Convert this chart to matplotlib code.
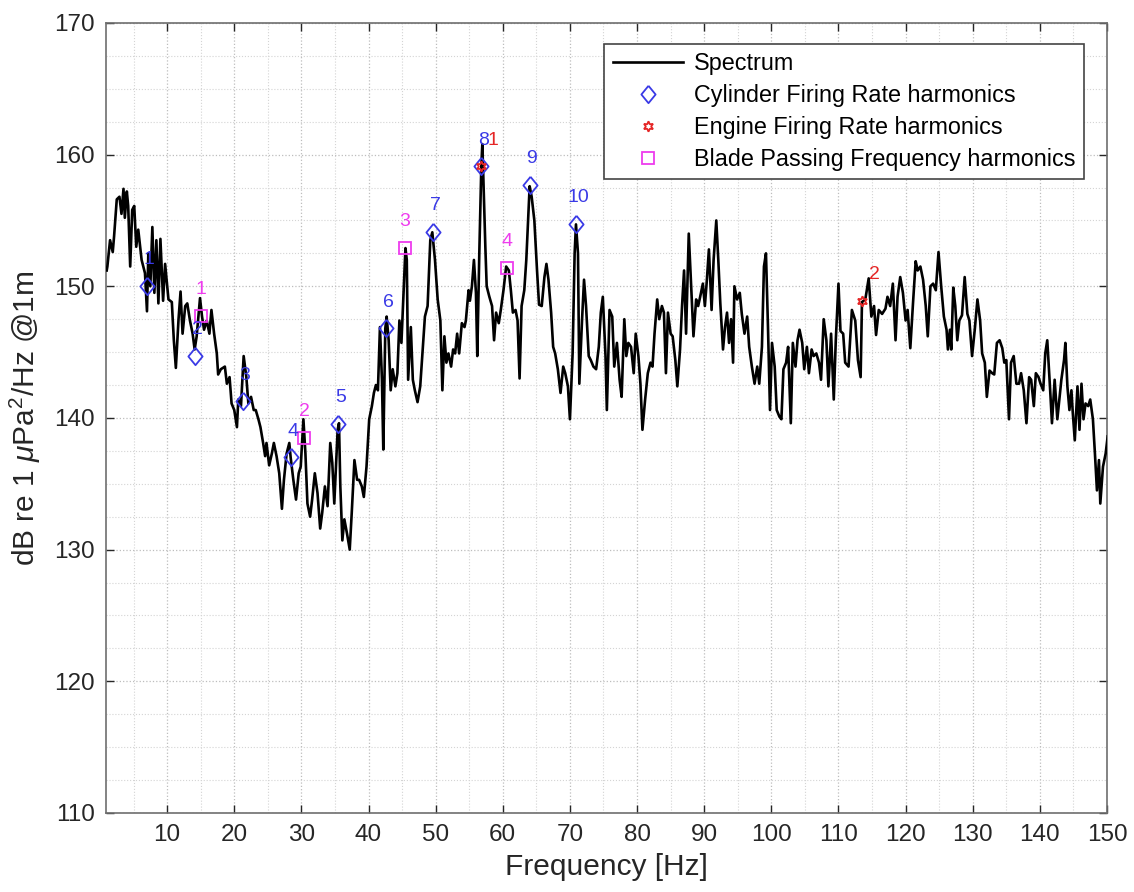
import matplotlib
matplotlib.use("Agg")
import matplotlib.pyplot as plt
from matplotlib.ticker import MultipleLocator

plt.rcParams['font.family'] = ['Liberation Sans', 'DejaVu Sans']
plt.rcParams['mathtext.fontset'] = 'custom'
plt.rcParams['mathtext.rm'] = 'Liberation Sans'
plt.rcParams['mathtext.it'] = 'Liberation Sans:italic'

# spectrum: (frequency Hz, level dB)
spectrum_pts = [
    (1.0, 151.2), (1.1, 151.5), (1.5, 153.5), (1.9, 152.6), (2.1, 153.8), (2.5, 156.6),
    (2.9, 156.8), (3.2, 155.5), (3.5, 157.4), (3.7, 155.2), (4.0, 157.2), (4.2, 156.1),
    (4.5, 151.5), (4.8, 155.8), (5.1, 156.1), (5.4, 153.0), (5.7, 154.3), (6.2, 152.0),
    (6.7, 151.0), (7.0, 148.1), (7.2, 152.5), (7.5, 150.0), (7.8, 154.5), (8.1, 149.5),
    (8.4, 153.5), (8.7, 148.7), (9.0, 153.6), (9.4, 148.9), (9.7, 151.7), (10.2, 149.0),
    (10.7, 148.8), (11.0, 145.9), (11.3, 143.8), (11.7, 147.5), (12.0, 149.6), (12.3, 146.4),
    (12.7, 148.5), (13.0, 148.7), (13.4, 147.4), (13.8, 146.4), (14.1, 145.2), (14.4, 146.2),
    (14.9, 149.1), (15.2, 147.7), (15.5, 146.7), (15.9, 147.4), (16.3, 146.4), (16.6, 148.2),
    (17.0, 146.4), (17.4, 144.9), (17.6, 143.3), (18.0, 143.7), (18.3, 143.8), (18.6, 143.9),
    (18.9, 142.6), (19.3, 143.1), (19.6, 141.1), (20.0, 140.6), (20.4, 139.3), (20.6, 141.4),
    (21.0, 140.9), (21.4, 144.7), (21.8, 143.1), (22.1, 141.1), (22.5, 141.6), (22.9, 140.6),
    (23.2, 140.6), (23.6, 139.9), (23.9, 139.3), (24.3, 138.1), (24.6, 137.1), (24.8, 138.1),
    (25.2, 136.4), (25.6, 137.3), (25.9, 138.1), (26.3, 137.1), (26.7, 135.8), (27.1, 133.1),
    (27.4, 135.3), (27.8, 137.3), (28.2, 138.1), (28.4, 137.0), (28.8, 135.3), (29.2, 133.8),
    (29.6, 135.8), (29.9, 136.3), (30.3, 139.9), (30.6, 137.3), (30.9, 133.5), (31.3, 132.5),
    (31.6, 133.8), (32.0, 135.8), (32.4, 134.3), (32.8, 131.6), (33.1, 132.8), (33.5, 134.8),
    (33.9, 133.3), (34.3, 138.1), (34.6, 136.6), (34.9, 133.5), (35.4, 139.1), (35.6, 139.6),
    (35.8, 134.8), (36.1, 130.7), (36.4, 132.3), (36.8, 131.2), (37.2, 130.0), (37.5, 132.8),
    (37.9, 136.8), (38.3, 135.3), (38.6, 135.3), (39.0, 134.8), (39.3, 134.0), (39.7, 136.3),
    (40.1, 139.9), (40.5, 140.9), (40.8, 141.9), (41.1, 142.5), (41.4, 142.1), (41.7, 146.9),
    (42.0, 142.9), (42.2, 137.6), (42.5, 146.8), (42.7, 147.7), (43.0, 145.9), (43.3, 142.1),
    (43.6, 143.7), (44.0, 142.4), (44.3, 143.4), (44.6, 147.4), (44.9, 145.7), (45.5, 152.9),
    (45.7, 152.0), (45.9, 142.9), (46.3, 146.9), (46.6, 142.9), (46.9, 142.1), (47.3, 141.2),
    (47.7, 142.4), (48.1, 145.4), (48.4, 147.7), (48.8, 148.5), (49.2, 153.5), (49.5, 154.1),
    (49.9, 152.0), (50.3, 149.0), (50.7, 147.4), (51.0, 142.1), (51.3, 146.2), (51.6, 144.2),
    (51.9, 144.9), (52.3, 143.9), (52.6, 145.2), (52.9, 144.9), (53.2, 146.4), (53.5, 144.9),
    (53.9, 147.2), (54.3, 146.9), (54.5, 147.4), (54.9, 149.7), (55.1, 148.9), (55.4, 150.0),
    (55.7, 152.0), (56.0, 149.5), (56.2, 144.7), (56.5, 152.5), (56.8, 159.1), (56.95, 160.8),
    (57.1, 158.3), (57.4, 153.0), (57.6, 150.0), (58.0, 149.2), (58.4, 148.5), (58.7, 145.9),
    (59.0, 148.0), (59.4, 147.2), (59.7, 148.2), (60.1, 149.7), (60.5, 151.5), (60.9, 151.2),
    (61.2, 149.7), (61.5, 148.0), (61.9, 148.2), (62.2, 147.4), (62.5, 143.0), (62.8, 148.5),
    (63.2, 149.7), (63.5, 152.0), (64.0, 157.6), (64.3, 156.8), (64.7, 155.0), (65.1, 151.2),
    (65.4, 148.6), (65.8, 148.5), (66.2, 150.7), (66.5, 151.7), (66.8, 150.5), (67.2, 148.0),
    (67.5, 145.4), (67.8, 144.9), (68.2, 143.7), (68.6, 141.9), (69.0, 143.9), (69.3, 143.4),
    (69.7, 142.4), (70.0, 139.9), (70.4, 144.9), (70.7, 152.5), (70.9, 154.7), (71.2, 152.5),
    (71.4, 142.6), (71.8, 147.4), (72.1, 150.5), (72.4, 148.5), (72.8, 144.7), (73.1, 144.4),
    (73.5, 143.9), (73.9, 143.7), (74.3, 145.4), (74.6, 148.0), (74.9, 149.2), (75.3, 144.7),
    (75.5, 140.6), (75.9, 148.2), (76.3, 147.7), (76.6, 143.9), (77.0, 145.7), (77.4, 142.9),
    (77.7, 141.6), (78.1, 147.5), (78.4, 144.7), (78.7, 145.7), (79.1, 145.4), (79.5, 143.4),
    (79.8, 146.4), (80.2, 144.7), (80.5, 142.6), (80.8, 139.1), (81.2, 141.4), (81.6, 143.4),
    (82.0, 144.2), (82.3, 143.9), (82.6, 146.4), (83.0, 149.0), (83.3, 147.5), (83.7, 148.5),
    (84.0, 148.0), (84.3, 143.4), (84.6, 148.0), (85.0, 146.4), (85.3, 146.2), (85.7, 144.4),
    (86.0, 142.4), (86.4, 145.2), (86.7, 148.5), (87.0, 151.2), (87.3, 146.4), (87.7, 154.0),
    (88.0, 150.7), (88.4, 146.2), (88.8, 149.0), (89.1, 148.5), (89.4, 149.2), (89.8, 150.2),
    (90.1, 148.5), (90.4, 150.5), (90.7, 152.8), (91.1, 148.2), (91.4, 152.0), (91.8, 155.0),
    (92.1, 152.0), (92.4, 148.7), (92.8, 145.2), (93.1, 146.9), (93.4, 148.0), (93.7, 145.7),
    (94.0, 147.5), (94.3, 144.2), (94.5, 150.0), (94.9, 149.0), (95.3, 149.5), (95.6, 147.9),
    (96.0, 146.4), (96.4, 147.7), (96.7, 145.4), (97.1, 143.9), (97.5, 142.6), (97.9, 143.9),
    (98.2, 142.6), (98.6, 145.4), (98.9, 151.5), (99.2, 152.5), (99.5, 146.9), (99.8, 140.6),
    (100.1, 145.7), (100.5, 143.9), (100.8, 140.6), (101.2, 140.1), (101.5, 139.9), (101.8, 143.7),
    (102.2, 144.2), (102.5, 145.4), (102.9, 139.6), (103.2, 145.7), (103.6, 143.9), (103.9, 145.9),
    (104.2, 146.7), (104.6, 145.7), (104.9, 143.7), (105.3, 145.4), (105.6, 143.4), (106.0, 145.2),
    (106.3, 144.7), (106.7, 144.9), (107.1, 144.2), (107.4, 142.9), (107.8, 147.5), (108.2, 145.9),
    (108.5, 142.4), (108.9, 146.4), (109.3, 141.4), (109.6, 145.9), (110.0, 150.2), (110.3, 146.6),
    (110.7, 146.4), (111.0, 144.2), (111.5, 143.9), (112.0, 148.2), (112.5, 147.4), (112.9, 144.4),
    (113.3, 143.1), (113.5, 148.8), (114.0, 149.0), (114.5, 150.6), (114.9, 147.7), (115.3, 148.5),
    (115.6, 146.3), (116.0, 148.2), (116.5, 147.9), (117.0, 148.3), (117.3, 149.2), (117.7, 148.5),
    (118.1, 150.2), (118.5, 145.9), (118.8, 149.2), (119.2, 150.7), (119.6, 149.5), (120.0, 147.4),
    (120.3, 148.2), (120.7, 145.3), (121.1, 148.7), (121.5, 151.9), (121.8, 151.2), (122.2, 151.5),
    (122.6, 150.5), (123.0, 148.5), (123.3, 146.2), (123.7, 150.0), (124.1, 150.2), (124.5, 149.7),
    (124.9, 152.6), (125.3, 150.0), (125.7, 147.7), (126.1, 146.7), (126.3, 145.2), (126.6, 146.7),
    (126.8, 145.2), (127.1, 149.9), (127.4, 148.5), (127.7, 145.9), (128.0, 147.4), (128.4, 147.8),
    (128.8, 150.7), (129.2, 147.9), (129.5, 147.4), (129.9, 144.7), (130.3, 146.7), (130.7, 149.0),
    (131.1, 147.4), (131.4, 144.9), (131.8, 144.2), (132.1, 141.6), (132.5, 143.6), (132.9, 143.4),
    (133.2, 143.3), (133.6, 145.7), (134.0, 145.9), (134.4, 145.3), (134.7, 144.2), (135.0, 144.4),
    (135.4, 139.9), (135.7, 144.2), (136.1, 144.7), (136.5, 142.6), (136.9, 142.6), (137.2, 143.4),
    (137.6, 142.1), (138.0, 139.6), (138.4, 143.1), (138.7, 142.9), (139.1, 140.9), (139.4, 143.4),
    (139.8, 143.1), (140.1, 142.6), (140.5, 142.1), (140.8, 144.9), (141.1, 145.9), (141.5, 142.4),
    (141.8, 139.6), (142.2, 142.9), (142.6, 139.9), (142.9, 141.4), (143.2, 142.9), (143.6, 144.4),
    (143.8, 145.7), (144.1, 142.4), (144.4, 140.6), (144.7, 142.1), (144.9, 140.4), (145.2, 138.3),
    (145.6, 142.4), (145.9, 139.1), (146.2, 142.6), (146.5, 139.9), (146.8, 141.1), (147.2, 140.9),
    (147.5, 141.4), (147.9, 139.9), (148.2, 137.3), (148.5, 134.5), (148.8, 136.8), (149.0, 133.5),
    (149.4, 136.3), (149.8, 137.3), (150.1, 138.6),
]
freq = [p[0] for p in spectrum_pts]
level = [p[1] for p in spectrum_pts]

# harmonic markers
cyl_freq = [7.0, 14.2, 21.3, 28.4, 35.5, 42.6, 49.6, 56.8, 64.0, 70.9]
cyl_level = [150.05, 144.7, 141.25, 137.0, 139.55, 146.8, 154.1, 159.1, 157.7, 154.75]
eng_freq = [56.8, 113.5]
eng_level = [159.1, 148.9]
bpf_freq = [15.1, 30.4, 45.45, 60.6]
bpf_level = [147.75, 138.5, 152.9, 151.4]

blue = '#3a3ae6'
red = '#e52626'
mag = '#ee3cee'

fig = plt.figure(figsize=(11.34, 8.92), dpi=100)
ax = fig.add_axes([0.0935, 0.0886, 0.8827, 0.8857])

ax.plot(freq, level, color='black', lw=1.9, label='Spectrum', zorder=3)

diamond = [(0, 1), (0.82, 0), (0, -1), (-0.82, 0), (0, 1)]
ax.plot(cyl_freq, cyl_level, ls='none', marker=diamond, ms=12.5, mfc='none', mec=blue,
        mew=1.3, label='Cylinder Firing Rate harmonics', zorder=4)
ax.plot(eng_freq, eng_level, ls='none', marker=(6, 1, 0), ms=7.5, mfc='none', mec=red,
        mew=1.3, label='Engine Firing Rate harmonics', zorder=5)
ax.plot(bpf_freq, bpf_level, ls='none', marker='s', ms=8.5, mfc='none', mec=mag,
        mew=1.3, label='Blade Passing Frequency harmonics', zorder=4)

for i, (f, l) in enumerate(zip(cyl_freq, cyl_level)):
    ax.text(f + 0.3, l + 2.0, str(i + 1), color=blue, fontsize=14, ha='center', va='center', zorder=6)
for i, (f, l) in enumerate(zip(bpf_freq, bpf_level)):
    ax.text(f, l + 2.0, str(i + 1), color=mag, fontsize=14, ha='center', va='center', zorder=6)
for i, (f, l) in enumerate(zip(eng_freq, eng_level)):
    ax.text(f + 1.8, l + 2.0, str(i + 1), color=red, fontsize=14, ha='center', va='center', zorder=6)

ax.set_xlim(0.9, 150)
ax.set_ylim(110, 170)
ax.xaxis.set_major_locator(MultipleLocator(10))
ax.xaxis.set_minor_locator(MultipleLocator(5))
ax.yaxis.set_major_locator(MultipleLocator(10))
ax.yaxis.set_minor_locator(MultipleLocator(2.5))
ax.grid(which='major', ls=':', color='#bdbdbd', lw=0.9)
ax.grid(which='minor', ls=':', color='#d4d4d4', lw=0.8)
ax.set_axisbelow(True)
ax.tick_params(which='major', direction='in', length=6, width=1, top=True, right=True,
               labelsize=17.5, colors='#262626', pad=8)
ax.tick_params(which='minor', length=0)
for s in ax.spines.values():
    s.set_color('#6e6e6e')
    s.set_linewidth(1.2)

ax.set_xlabel('Frequency [Hz]', fontsize=21.5, color='#262626', labelpad=5)
ax.set_ylabel(r'dB re 1 $\mu$Pa$^2$/Hz @1m', fontsize=21.5, color='#262626', labelpad=8)

leg = ax.legend(loc='upper right', bbox_to_anchor=(0.977, 0.973), fontsize=16.8,
                frameon=True, fancybox=False, framealpha=1, edgecolor='#444444',
                handlelength=3.0, labelspacing=0.38, borderpad=0.35, handletextpad=0.5,
                borderaxespad=0)
leg.get_frame().set_linewidth(1.2)

fig.savefig('out.png', dpi=100)
